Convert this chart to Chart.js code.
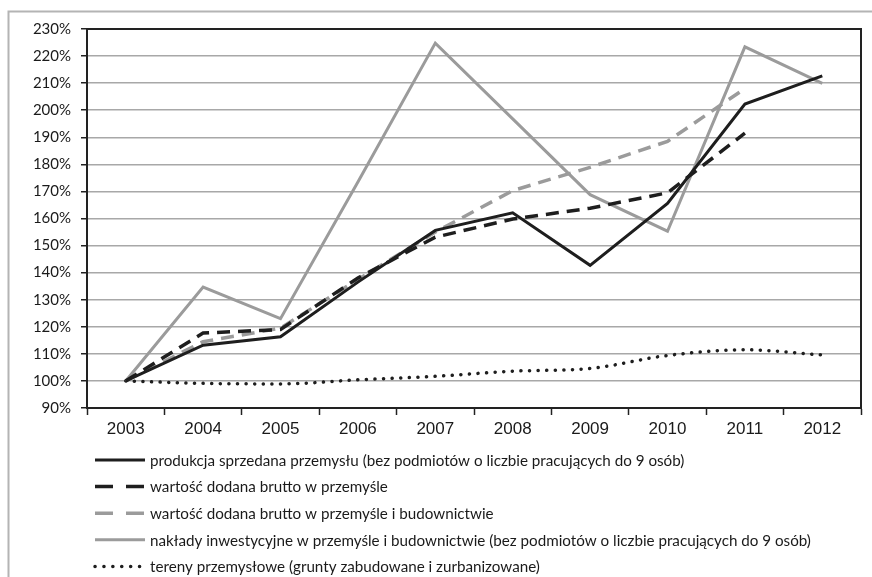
<!DOCTYPE html>
<html>
<head>
<meta charset="utf-8">
<script src="https://cdn.jsdelivr.net/npm/chart.js@4.4.1/dist/chart.umd.min.js"></script>
<style>
html,body{margin:0;padding:0;background:#fff;}
#wrap{width:872px;height:577px;position:relative;}
</style>
</head>
<body>
<div id="wrap"><canvas id="c" width="872" height="577"></canvas></div>
<script>
const years = ['2003','2004','2005','2006','2007','2008','2009','2010','2011','2012'];
const produkcja = [100, 113.2, 116.3, 136.5, 155.6, 162.1, 142.7, 165.6, 202.3, 212.7];
const wartoscPrzemysl = [100, 117.7, 119, 138, 153.1, 159.8, 163.8, 169.5, 191.5, null];
const wartoscBudownictwo = [100, 114.5, 119.5, 137.5, 155, 170.3, 178.9, 188.5, 208, null];
const naklady = [100, 134.7, 123, 173.5, 224.8, 196.8, 168.8, 155.3, 223.4, 209.9];
const tereny = [100, 99.1, 98.9, 100.4, 101.7, 103.6, 104.6, 109.4, 111.5, 109.6];
const labels = [
  'produkcja sprzedana przemysłu (bez podmiotów o liczbie pracujących do 9 osób)',
  'wartość dodana brutto w przemyśle',
  'wartość dodana brutto w przemyśle i budownictwie',
  'nakłady inwestycyjne w przemyśle i budownictwie (bez podmiotów o liczbie pracujących do 9 osób)',
  'tereny przemysłowe (grunty zabudowane i zurbanizowane)'
];
const yMin = 90, yMax = 230, yStep = 10;

const framePlugin = {
  id: 'frame',
  beforeDraw(chart) {
    const ctx = chart.ctx;
    ctx.save();
    ctx.strokeStyle = '#b4b4b4';
    ctx.lineWidth = 2;
    ctx.beginPath();
    ctx.moveTo(8.5, 577);
    ctx.lineTo(8.5, 11.5);
    ctx.lineTo(872, 11.5);
    ctx.stroke();
    ctx.restore();
  },
  beforeDatasetsDraw(chart) {
    const a = chart.chartArea, ctx = chart.ctx;
    ctx.save();
    ctx.strokeStyle = '#222';
    ctx.lineWidth = 2;
    ctx.beginPath();
    ctx.moveTo(a.left, a.top);
    ctx.lineTo(a.right, a.top);
    ctx.lineTo(a.right, a.bottom);
    ctx.stroke();
    ctx.restore();
  },
  afterDraw(chart) {
    const ctx = chart.ctx;
    ctx.save();
    const x0 = 95, x1 = 145, tx = 150, y0 = 460, dy = 26.6;
    chart.data.datasets.forEach((ds, i) => {
      const y = y0 + i * dy;
      ctx.strokeStyle = ds.borderColor;
      ctx.lineWidth = ds.borderWidth;
      ctx.lineCap = ds.borderCapStyle || 'butt';
      ctx.setLineDash(ds.legendDash || []);
      ctx.beginPath();
      ctx.moveTo(x0, y);
      ctx.lineTo(x1, y);
      ctx.stroke();
      ctx.setLineDash([]);
      ctx.fillStyle = '#1a1a1a';
      ctx.font = '15.2px Lato';
      ctx.textBaseline = 'middle';
      ctx.textAlign = 'left';
      ctx.fillText(ds.label, tx, y + 1);
    });
    ctx.restore();
  }
};

new Chart(document.getElementById('c'), {
  type: 'line',
  data: {
    labels: years,
    datasets: [
      { label: labels[0], data: produkcja, borderColor: '#1e1e1e', borderWidth: 3, pointRadius: 0, tension: 0, legendDash: [] },
      { label: labels[1], data: wartoscPrzemysl, borderColor: '#1e1e1e', borderWidth: 3.5, borderDash: [13, 8], pointRadius: 0, tension: 0, legendDash: [18, 13] },
      { label: labels[2], data: wartoscBudownictwo, borderColor: '#9b9b9b', borderWidth: 3.5, borderDash: [13, 8], pointRadius: 0, tension: 0, legendDash: [18, 13] },
      { label: labels[3], data: naklady, borderColor: '#9b9b9b', borderWidth: 3, pointRadius: 0, tension: 0, legendDash: [] },
      { label: labels[4], data: tereny, borderColor: '#1e1e1e', borderWidth: 3.5, borderDash: [0.1, 8.5], borderCapStyle: 'round', pointRadius: 0, cubicInterpolationMode: 'monotone', legendDash: [0.1, 8.8] }
    ]
  },
  options: {
    responsive: false,
    animation: false,
    spanGaps: false,
    layout: { padding: { left: 0, top: 29, right: 11, bottom: 129 } },
    plugins: { legend: { display: false }, tooltip: { enabled: false } },
    scales: {
      x: {
        offset: true,
        grid: { offset: true, drawOnChartArea: false, drawTicks: true, tickLength: 7, tickColor: '#222', tickWidth: 1.5 },
        border: { display: true, color: '#222', width: 2 },
        ticks: { color: '#1a1a1a', font: { family: 'Liberation Sans', size: 17 }, padding: 4, maxRotation: 0, autoSkip: false },
        afterFit(s) { s.height = 40; }
      },
      y: {
        min: yMin, max: yMax,
        grid: { color: '#a8a8a8', lineWidth: 1.5, tickColor: '#222', tickLength: 6, tickWidth: 1.5 },
        border: { display: true, color: '#222', width: 2 },
        ticks: { stepSize: yStep, color: '#1a1a1a', font: { family: 'Lato', size: 15 }, padding: 10, callback: v => v + '%' },
        afterFit(s) { s.width = 87; }
      }
    }
  },
  plugins: [framePlugin]
});
</script>
</body>
</html>
